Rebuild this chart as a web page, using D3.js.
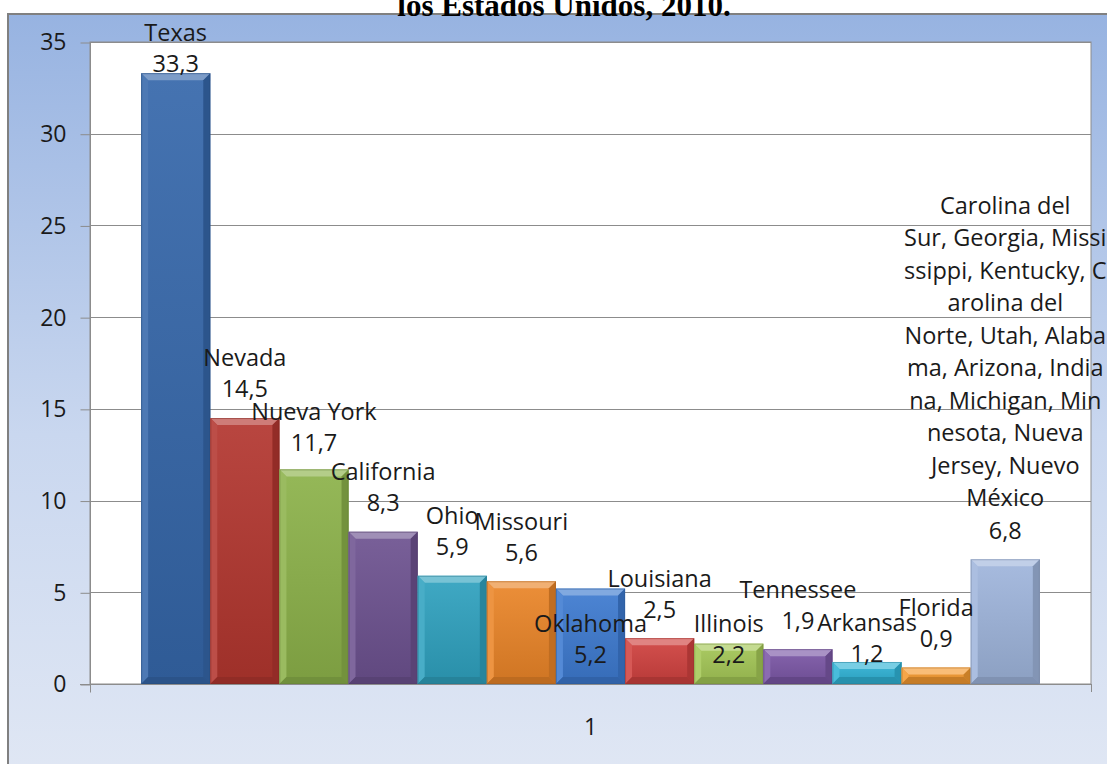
<!DOCTYPE html>
<html>
<head>
<meta charset="utf-8">
<script src="https://cdn.jsdelivr.net/npm/d3@7"></script>
<style>
  html, body { margin: 0; padding: 0; background: #ffffff; }
  svg { display: block; }
  text { font-family: "Open Sans", "Noto Sans", sans-serif; }
</style>
</head>
<body>
<svg id="chart" width="1107" height="764"></svg>
<script>
// ---------- data ----------
const categories = ["1"];
const seriesNames = [
  "Texas", "Nevada", "Nueva York", "California", "Ohio", "Missouri",
  "Oklahoma", "Louisiana", "Illinois", "Tennessee", "Arkansas", "Florida",
  "Carolina del Sur, Georgia, Mississippi, Kentucky, Carolina del Norte, Utah, Alabama, Arizona, Indiana, Michigan, Minnesota, Nueva Jersey, Nuevo México"
];
const seriesValues = [33.3, 14.5, 11.7, 8.3, 5.9, 5.6, 5.2, 2.5, 2.2, 1.9, 1.2, 0.9, 6.8];
const valueLabels = ["33,3", "14,5", "11,7", "8,3", "5,9", "5,6", "5,2", "2,5", "2,2", "1,9", "1,2", "0,9", "6,8"];
// the wrapped name lines as Excel displayed them
const nameLines = [
  ["Texas"], ["Nevada"], ["Nueva York"], ["California"], ["Ohio"], ["Missouri"],
  ["Oklahoma"], ["Louisiana"], ["Illinois"], ["Tennessee"], ["Arkansas"], ["Florida"],
  ["Carolina del", "Sur, Georgia, Missi", "ssippi, Kentucky, C", "arolina del",
   "Norte, Utah, Alaba", "ma, Arizona, India", "na, Michigan, Min",
   "nesota, Nueva", "Jersey, Nuevo", "México"]
];
const yTicks = [0, 5, 10, 15, 20, 25, 30, 35];
const seriesColors = ["#3567aa", "#b3362f", "#8cb24a", "#6d5290", "#2fa2bf", "#ea8528",
                      "#3d7ad0", "#d0423f", "#a4c756", "#7b57a6", "#30b3d6", "#f59a30", "#9fb5dc"];
const titleText = "los Estados Unidos, 2010.";

// ---------- layout (not data) ----------
const labelShift = [19, 0, 2, 0, 0, 0, 95, 0, 40, 0, 21, 0, 0]; // Excel's manual label nudges (px)

const svg = d3.select("#chart");
const W = 1107, H = 764;
const plot = { left: 90, right: 1091, top: 42, bottom: 684 };

const defs = svg.append("defs");
const bg = defs.append("linearGradient").attr("id", "bgGrad").attr("x1", 0).attr("y1", 0).attr("x2", 0).attr("y2", 1);
bg.append("stop").attr("offset", "0").attr("stop-color", "#97b3e1");
bg.append("stop").attr("offset", "0.55").attr("stop-color", "#c9d7ef");
bg.append("stop").attr("offset", "1").attr("stop-color", "#e0e7f4");

// chart area
svg.append("rect").attr("x", 8).attr("y", 14).attr("width", W + 10).attr("height", H)
  .attr("fill", "url(#bgGrad)").attr("stroke", "#808080").attr("stroke-width", 2);

// title (partially cut at top)
svg.append("text").attr("x", 564).attr("y", 16).attr("text-anchor", "middle")
  .style("font-family", "'Liberation Serif', 'Times New Roman', serif")
  .style("font-weight", "bold").style("font-size", "31px").attr("fill", "#000")
  .text(titleText);

// plot area
svg.append("rect").attr("x", plot.left).attr("y", plot.top)
  .attr("width", plot.right - plot.left).attr("height", plot.bottom - plot.top)
  .attr("fill", "#ffffff").attr("stroke", "#8c8c8c").attr("stroke-width", 1);

const y = d3.scaleLinear().domain([0, 35]).range([plot.bottom, plot.top]);
const x0 = d3.scaleBand().domain(categories).range([plot.left, plot.right]);
const x1 = d3.scaleBand().domain(d3.range(seriesValues.length))
  .range([0, x0.bandwidth()]).paddingOuter(0.74).paddingInner(0);

// gridlines
svg.append("g").selectAll("line").data(yTicks).join("line")
  .attr("x1", plot.left).attr("x2", plot.right)
  .attr("y1", d => Math.round(y(d)) + 0.5).attr("y2", d => Math.round(y(d)) + 0.5)
  .attr("stroke", "#8c8c8c").attr("stroke-width", 1);

// y axis
const yAxis = d3.axisLeft(y).tickValues(yTicks).tickSize(10).tickPadding(14)
  .tickFormat(d => String(d));
const gy = svg.append("g").attr("transform", `translate(${plot.left + 0.5},0.5)`).call(yAxis);
gy.select(".domain").attr("stroke", "#8c8c8c").attr("d", `M0,${plot.top}V${plot.bottom + 8}`);
gy.selectAll(".tick line").attr("stroke", "#8c8c8c");
gy.selectAll(".tick text").attr("fill", "#1a1a1a")
  .style("font-family", "'Open Sans', sans-serif").style("font-size", "23px");

// x axis
const xAxis = d3.axisBottom(x0).tickSize(0).tickPadding(34);
const gx = svg.append("g").attr("transform", `translate(0,${plot.bottom + 0.5})`).call(xAxis);
gx.select(".domain").attr("stroke", "#8c8c8c").attr("d", `M${plot.left - 10},0H${plot.right}`);
gx.selectAll(".tick text").attr("fill", "#1a1a1a")
  .style("font-family", "'Open Sans', sans-serif").style("font-size", "23px");
svg.append("line").attr("x1", plot.right + 0.5).attr("x2", plot.right + 0.5)
  .attr("y1", plot.bottom).attr("y2", plot.bottom + 8).attr("stroke", "#8c8c8c");

// bars with bevel
const bevel = 7;
const bars = svg.append("g").selectAll("g").data(seriesValues).join("g")
  .attr("transform", () => `translate(${x0(categories[0])},0)`);

bars.each(function (v, i) {
  const g = d3.select(this);
  const bx = x1(i), bw = x1.bandwidth();
  const top = y(v), bot = y(0);
  const h = bot - top;
  const c = d3.color(seriesColors[i]);
  const gid = "bg" + i;
  const lg = defs.append("linearGradient").attr("id", gid).attr("x1", 0).attr("y1", 0).attr("x2", 0).attr("y2", 1);
  lg.append("stop").attr("offset", 0).attr("stop-color", d3.interpolateRgb(c, "#fff")(0.08));
  lg.append("stop").attr("offset", 1).attr("stop-color", c.darker(0.35));
  g.append("rect").attr("x", bx).attr("y", top).attr("width", bw).attr("height", h).attr("fill", `url(#${gid})`);
  const b = Math.min(bevel, h / 2);
  g.append("path").attr("d", `M${bx},${top}H${bx + bw}L${bx + bw - b},${top + b}H${bx + b}Z`)
    .attr("fill", d3.interpolateRgb(c, "#fff")(0.35));
  g.append("path").attr("d", `M${bx},${top}L${bx + b},${top + b}V${bot - b}L${bx},${bot}Z`)
    .attr("fill", d3.interpolateRgb(c, "#fff")(0.12));
  g.append("path").attr("d", `M${bx + bw},${top}L${bx + bw - b},${top + b}V${bot - b}L${bx + bw},${bot}Z`)
    .attr("fill", c.darker(0.55));
  g.append("path").attr("d", `M${bx},${bot}L${bx + b},${bot - b}H${bx + bw - b}L${bx + bw},${bot}Z`)
    .attr("fill", c.darker(0.6));
  g.append("rect").attr("x", bx + 0.5).attr("y", top + 0.5).attr("width", bw - 1).attr("height", h - 1)
    .attr("fill", "none").attr("stroke", c.darker(0.9)).attr("stroke-opacity", 0.5);
});

// data labels
const lineH = 32.5;
const labels = svg.append("g").selectAll("text").data(seriesValues).join("text")
  .attr("text-anchor", "middle").attr("fill", "#1a1a1a")
  .style("font-size", "23.5px");
labels.each(function (v, i) {
  const t = d3.select(this);
  const cx = x0(categories[0]) + x1(i) + x1.bandwidth() / 2;
  const valueY = y(v) - 29 + labelShift[i];
  const lines = nameLines[i].concat([valueLabels[i]]);
  const lh = lines.length > 2 ? lineH : 31;
  lines.forEach((ln, k) => {
    t.append("tspan").attr("x", cx)
      .attr("y", valueY - (lines.length - 1 - k) * lh)
      .attr("dy", "0.36em").text(ln);
  });
});
</script>
</body>
</html>
